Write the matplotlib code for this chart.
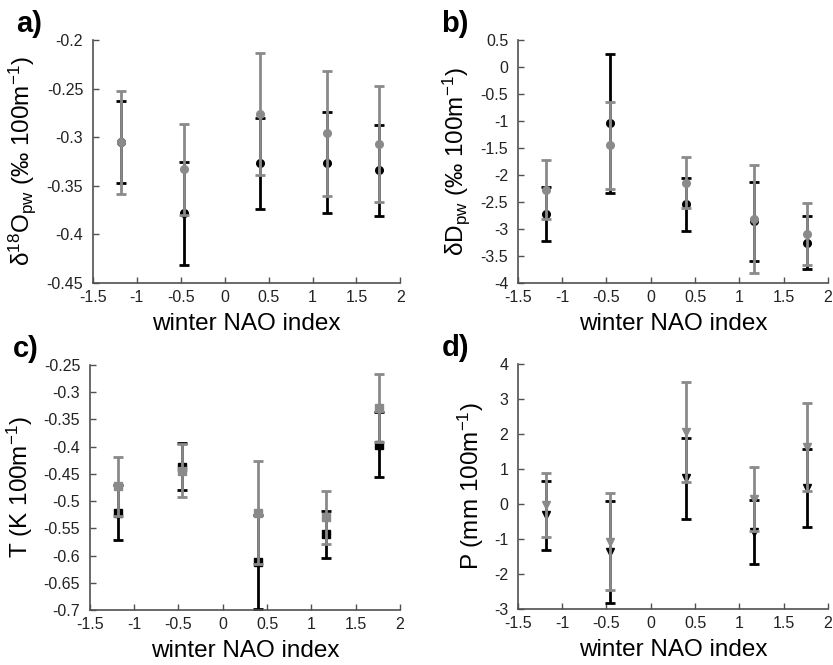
import matplotlib
matplotlib.use("Agg")
import matplotlib.pyplot as plt

plt.rcParams["font.family"] = ["Liberation Sans", "DejaVu Sans"]
plt.rcParams["mathtext.fontset"] = "custom"
plt.rcParams["mathtext.rm"] = "Liberation Sans"

# winter NAO index of the five groups
nao = [-1.18, -0.46, 0.40, 1.17, 1.76]

# a) d18O lapse rate
d18o_black = [-0.305, -0.378, -0.327, -0.326, -0.334]
d18o_black_err = [0.042, 0.053, 0.047, 0.052, 0.047]
d18o_gray = [-0.305, -0.333, -0.276, -0.296, -0.307]
d18o_gray_err = [0.053, 0.047, 0.063, 0.064, 0.060]

# b) dD lapse rate
dd_black = [-2.72, -1.04, -2.54, -2.86, -3.25]
dd_black_err = [0.50, 1.29, 0.49, 0.74, 0.49]
dd_gray = [-2.27, -1.45, -2.14, -2.81, -3.09]
dd_gray_err = [0.54, 0.81, 0.47, 1.00, 0.57]

# c) temperature lapse rate
t_black = [-0.521, -0.437, -0.612, -0.561, -0.396]
t_black_err = [0.051, 0.043, 0.087, 0.043, 0.059]
t_gray = [-0.473, -0.444, -0.521, -0.530, -0.329]
t_gray_err = [0.054, 0.049, 0.094, 0.048, 0.063]

# d) precipitation lapse rate
p_black = [-0.32, -1.37, 0.73, -0.80, 0.45]
p_black_err = [0.99, 1.47, 1.15, 0.91, 1.12]
p_gray = [-0.03, -1.08, 2.07, 0.15, 1.63]
p_gray_err = [0.92, 1.39, 1.43, 0.92, 1.27]

BLACK = "#000000"
GRAY = "#8a8a8a"

fig = plt.figure(figsize=(8.33, 6.65), dpi=100)

panels = [
    ("a)", [0.1116, 0.5744, 0.369, 0.3654], d18o_black, d18o_black_err, d18o_gray, d18o_gray_err,
     "o", (-0.45, -0.2), [-0.45, -0.4, -0.35, -0.3, -0.25, -0.2],
     r"δ$\mathregular{^{18}}$O$\mathregular{_{pw}}$ (‰ 100m$\mathregular{^{-1}}$)"),
    ("b)", [0.6218, 0.5744, 0.372, 0.3654], dd_black, dd_black_err, dd_gray, dd_gray_err,
     "o", (-4, 0.5), [-4, -3.5, -3, -2.5, -2, -1.5, -1, -0.5, 0, 0.5],
     r"δD$\mathregular{_{pw}}$ (‰ 100m$\mathregular{^{-1}}$)"),
    ("c)", [0.108, 0.0827, 0.372, 0.3684], t_black, t_black_err, t_gray, t_gray_err,
     "s", (-0.7, -0.25), [-0.7, -0.65, -0.6, -0.55, -0.5, -0.45, -0.4, -0.35, -0.3, -0.25],
     r"T (K 100m$\mathregular{^{-1}}$)"),
    ("d)", [0.6218, 0.0842, 0.372, 0.3684], p_black, p_black_err, p_gray, p_gray_err,
     "v", (-3, 4), [-3, -2, -1, 0, 1, 2, 3, 4],
     r"P (mm 100m$\mathregular{^{-1}}$)"),
]

for label, rect, yb, eb, yg, eg, marker, ylim, yticks, ylabel in panels:
    ax = fig.add_axes(rect)
    ax.errorbar(nao, yb, yerr=eb, fmt=marker, color=BLACK, ecolor=BLACK,
                elinewidth=2, capsize=3.5, capthick=2, markersize=5.5, zorder=2)
    ax.errorbar(nao, yg, yerr=eg, fmt=marker, color=GRAY, ecolor=GRAY,
                elinewidth=2, capsize=3.5, capthick=2, markersize=5.5, zorder=3)

    ax.set_xlim(-1.5, 2)
    ax.set_ylim(*ylim)
    ax.set_xticks([-1.5, -1, -0.5, 0, 0.5, 1, 1.5, 2])
    ax.set_xticklabels(["-1.5", "-1", "-0.5", "0", "0.5", "1", "1.5", "2"])
    ax.set_yticks(yticks)
    ax.set_yticklabels([f"{v:g}" for v in yticks])

    for side in ["top", "right"]:
        ax.spines[side].set_visible(False)
    for side in ["left", "bottom"]:
        ax.spines[side].set_color("#505050")
        ax.spines[side].set_linewidth(1.2)
    ax.tick_params(direction="in", length=4, width=1, color="#505050",
                   labelsize=11.5, labelcolor="#222222")
    ax.tick_params(axis="x", pad=5)
    ax.tick_params(axis="y", pad=7)

    ax.set_xlabel("winter NAO index", fontsize=17.5, labelpad=6)
    ax.set_ylabel(ylabel, fontsize=17.5, labelpad=6)

    # panel letter
    fig.text(rect[0] - 0.092, rect[1] + rect[3] + 0.003, label,
             fontsize=21, fontweight="bold", ha="left", va="bottom")

fig.savefig("out.png", dpi=100)
plt.close(fig)
